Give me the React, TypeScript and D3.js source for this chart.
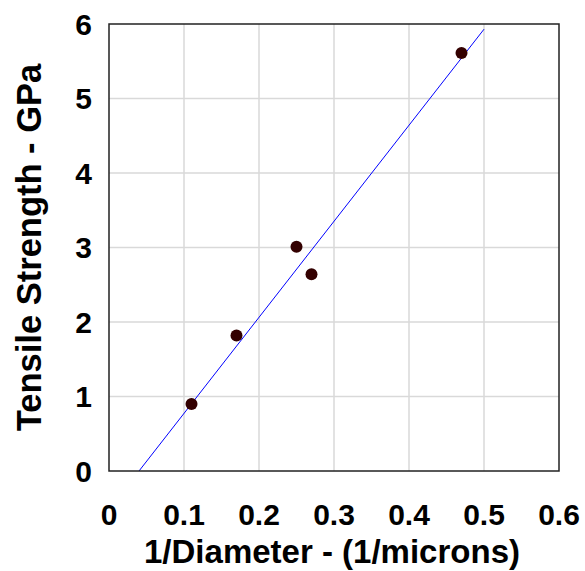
import React from "react";
import * as d3 from "d3";

const pointX = [0.11, 0.17, 0.25, 0.27, 0.47];
const pointY = [0.9, 1.82, 3.01, 2.64, 5.61];
const fitX = [0.04, 0.5];
const fitY = [0, 5.93];
const xTicks = [0, 0.1, 0.2, 0.3, 0.4, 0.5, 0.6];
const yTicks = [0, 1, 2, 3, 4, 5, 6];
const xTitle = "1/Diameter - (1/microns)";
const yTitle = "Tensile Strength - GPa";

export default function App() {
  const W = 585, H = 571;
  const left = 109, right = 559, top = 24, bottom = 471;
  const x = d3.scaleLinear().domain([0, 0.6]).range([left, right]);
  const y = d3.scaleLinear().domain([0, 6]).range([bottom, top]);
  const line = d3.line<number>().x((d) => x(fitX[d])).y((d) => y(fitY[d]));
  const font = "'Liberation Sans', Arial, sans-serif";
  return (
    <svg width={W} height={H} style={{ position: "absolute", left: 0, top: 0 }}>
      <rect x={0} y={0} width={W} height={H} fill="#fff" />
      {xTicks.slice(1, -1).map((t) => (
        <line key={"gx" + t} x1={x(t)} x2={x(t)} y1={top} y2={bottom} stroke="#d9d9d9" strokeWidth={1.5} />
      ))}
      {yTicks.slice(1, -1).map((t) => (
        <line key={"gy" + t} x1={left} x2={right} y1={y(t)} y2={y(t)} stroke="#d9d9d9" strokeWidth={1.5} />
      ))}
      <path d={line([0, 1]) || ""} stroke="#0000ff" strokeWidth={1} fill="none" />
      {pointX.map((px, i) => (
        <circle key={i} cx={x(px)} cy={y(pointY[i])} r={6} fill="#330000" />
      ))}
      <rect x={left} y={top} width={right - left} height={bottom - top} fill="none" stroke="#222" strokeWidth={1.5} />
      {xTicks.map((t) => (
        <text key={"tx" + t} x={x(t)} y={525} textAnchor="middle" fontFamily={font} fontWeight="bold" fontSize={30} fill="#000">
          {String(t)}
        </text>
      ))}
      {yTicks.map((t) => (
        <text key={"ty" + t} x={92} y={y(t) + 10.5} textAnchor="end" fontFamily={font} fontWeight="bold" fontSize={30} fill="#000">
          {String(t)}
        </text>
      ))}
      <text x={332} y={563} textAnchor="middle" fontFamily={font} fontWeight="bold" fontSize={33} fill="#000">
        {xTitle}
      </text>
      <text transform={`translate(41,${(top + bottom) / 2}) rotate(-90)`} textAnchor="middle" fontFamily={font} fontWeight="bold" fontSize={34.5} fill="#000">
        {yTitle}
      </text>
    </svg>
  );
}
